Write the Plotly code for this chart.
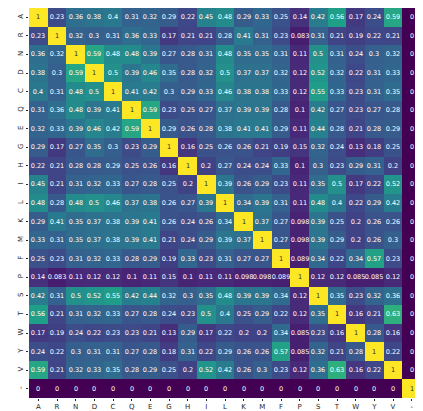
import plotly.graph_objects as go

labels = ["A", "R", "N", "D", "C", "Q", "E", "G", "H", "I", "L", "K", "M", "F", "P", "S", "T", "W", "Y", "V", "-"]

row_A = [1, 0.23, 0.36, 0.38, 0.4, 0.31, 0.32, 0.29, 0.22, 0.45, 0.48, 0.29, 0.33, 0.25, 0.14, 0.42, 0.56, 0.17, 0.24, 0.59, 0]
row_R = [0.23, 1, 0.32, 0.3, 0.31, 0.36, 0.33, 0.17, 0.21, 0.21, 0.28, 0.41, 0.31, 0.23, 0.083, 0.31, 0.21, 0.19, 0.22, 0.21, 0]
row_N = [0.36, 0.32, 1, 0.59, 0.48, 0.48, 0.39, 0.27, 0.28, 0.31, 0.48, 0.35, 0.35, 0.31, 0.11, 0.5, 0.31, 0.24, 0.3, 0.32, 0]
row_D = [0.38, 0.3, 0.59, 1, 0.5, 0.39, 0.46, 0.35, 0.28, 0.32, 0.5, 0.37, 0.37, 0.32, 0.12, 0.52, 0.32, 0.22, 0.31, 0.33, 0]
row_C = [0.4, 0.31, 0.48, 0.5, 1, 0.41, 0.42, 0.3, 0.29, 0.33, 0.46, 0.38, 0.38, 0.33, 0.12, 0.55, 0.33, 0.23, 0.31, 0.35, 0]
row_Q = [0.31, 0.36, 0.48, 0.39, 0.41, 1, 0.59, 0.23, 0.25, 0.27, 0.37, 0.39, 0.39, 0.28, 0.1, 0.42, 0.27, 0.23, 0.27, 0.28, 0]
row_E = [0.32, 0.33, 0.39, 0.46, 0.42, 0.59, 1, 0.29, 0.26, 0.28, 0.38, 0.41, 0.41, 0.29, 0.11, 0.44, 0.28, 0.21, 0.28, 0.29, 0]
row_G = [0.29, 0.17, 0.27, 0.35, 0.3, 0.23, 0.29, 1, 0.16, 0.25, 0.26, 0.26, 0.21, 0.19, 0.15, 0.32, 0.24, 0.13, 0.18, 0.25, 0]
row_H = [0.22, 0.21, 0.28, 0.28, 0.29, 0.25, 0.26, 0.16, 1, 0.2, 0.27, 0.24, 0.24, 0.33, 0.1, 0.3, 0.23, 0.29, 0.31, 0.2, 0]
row_I = [0.45, 0.21, 0.31, 0.32, 0.33, 0.27, 0.28, 0.25, 0.2, 1, 0.39, 0.26, 0.29, 0.23, 0.11, 0.35, 0.5, 0.17, 0.22, 0.52, 0]
row_L = [0.48, 0.28, 0.48, 0.5, 0.46, 0.37, 0.38, 0.26, 0.27, 0.39, 1, 0.34, 0.39, 0.31, 0.11, 0.48, 0.4, 0.22, 0.29, 0.42, 0]
row_K = [0.29, 0.41, 0.35, 0.37, 0.38, 0.39, 0.41, 0.26, 0.24, 0.26, 0.34, 1, 0.37, 0.27, 0.098, 0.39, 0.25, 0.2, 0.26, 0.26, 0]
row_M = [0.33, 0.31, 0.35, 0.37, 0.38, 0.39, 0.41, 0.21, 0.24, 0.29, 0.39, 0.37, 1, 0.27, 0.098, 0.39, 0.29, 0.2, 0.26, 0.3, 0]
row_F = [0.25, 0.23, 0.31, 0.32, 0.33, 0.28, 0.29, 0.19, 0.33, 0.23, 0.31, 0.27, 0.27, 1, 0.089, 0.34, 0.22, 0.34, 0.57, 0.23, 0]
row_P = [0.14, 0.083, 0.11, 0.12, 0.12, 0.1, 0.11, 0.15, 0.1, 0.11, 0.11, 0.098, 0.098, 0.089, 1, 0.12, 0.12, 0.085, 0.085, 0.12, 0]
row_S = [0.42, 0.31, 0.5, 0.52, 0.55, 0.42, 0.44, 0.32, 0.3, 0.35, 0.48, 0.39, 0.39, 0.34, 0.12, 1, 0.35, 0.23, 0.32, 0.36, 0]
row_T = [0.56, 0.21, 0.31, 0.32, 0.33, 0.27, 0.28, 0.24, 0.23, 0.5, 0.4, 0.25, 0.29, 0.22, 0.12, 0.35, 1, 0.16, 0.21, 0.63, 0]
row_W = [0.17, 0.19, 0.24, 0.22, 0.23, 0.23, 0.21, 0.13, 0.29, 0.17, 0.22, 0.2, 0.2, 0.34, 0.085, 0.23, 0.16, 1, 0.28, 0.16, 0]
row_Y = [0.24, 0.22, 0.3, 0.31, 0.31, 0.27, 0.28, 0.18, 0.31, 0.22, 0.29, 0.26, 0.26, 0.57, 0.085, 0.32, 0.21, 0.28, 1, 0.22, 0]
row_V = [0.59, 0.21, 0.32, 0.33, 0.35, 0.28, 0.29, 0.25, 0.2, 0.52, 0.42, 0.26, 0.3, 0.23, 0.12, 0.36, 0.63, 0.16, 0.22, 1, 0]
row_gap = [0, 0, 0, 0, 0, 0, 0, 0, 0, 0, 0, 0, 0, 0, 0, 0, 0, 0, 0, 0, 1]

z = [row_A, row_R, row_N, row_D, row_C, row_Q, row_E, row_G, row_H, row_I, row_L,
     row_K, row_M, row_F, row_P, row_S, row_T, row_W, row_Y, row_V, row_gap]

text = [[f"{v:.2g}" for v in row] for row in z]

# bright cells get dark text, like seaborn's annotation contrast
z_hi = [[v if v >= 0.9 else None for v in row] for row in z]
text_hi = [[t if v >= 0.9 else "" for v, t in zip(row, trow)] for row, trow in zip(z, text)]

fig = go.Figure()
fig.add_trace(go.Heatmap(
    z=z, x=labels, y=labels, text=text, texttemplate="%{text}",
    textfont=dict(color="white", size=6.5, family="DejaVu Sans"),
    colorscale="Viridis", zmin=0, zmax=1, showscale=False, xgap=0, ygap=0,
))
fig.add_trace(go.Heatmap(
    z=z_hi, x=labels, y=labels, text=text_hi, texttemplate="%{text}",
    textfont=dict(color="#262626", size=6.5, family="DejaVu Sans"),
    colorscale="Viridis", zmin=0, zmax=1, showscale=False, hoverongaps=False,
))

fig.update_layout(
    width=423, height=411,
    margin=dict(l=21, r=10, t=0, b=21),
    paper_bgcolor="white", plot_bgcolor="white",
    font=dict(family="DejaVu Sans", size=7, color="#262626"),
    showlegend=False,
)
fig.update_xaxes(type="category", ticks="outside", ticklen=2, tickwidth=0.8, tickcolor="#262626",
                 showgrid=False, zeroline=False, showline=False, tickfont=dict(size=7))
fig.update_yaxes(type="category", autorange="reversed", ticks="outside", ticklen=2, tickwidth=0.8,
                 tickcolor="#262626", tickangle=-90, showgrid=False, zeroline=False, showline=False,
                 tickfont=dict(size=7))

fig.write_html("out.html")
